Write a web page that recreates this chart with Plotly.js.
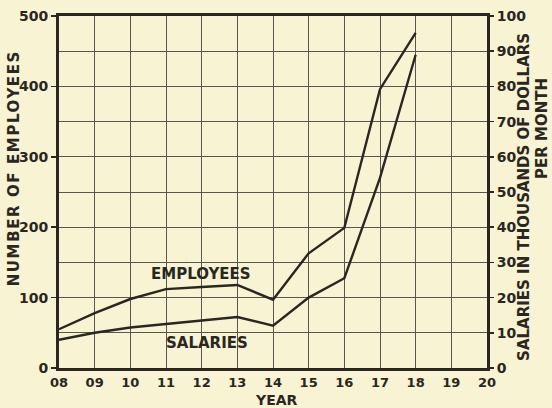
<!DOCTYPE html>
<html><head><meta charset="utf-8">
<script src="https://cdn.plot.ly/plotly-3.0.1.min.js"></script>
<style>body{margin:0;background:#f8f3d2}
.annotation[data-index="2"] text{letter-spacing:1.6px}
</style></head>
<body><div id="c" style="width:552px;height:408px"></div>
<script>
const years = [8, 9, 10, 11, 12, 13, 14, 15, 16, 17, 18];
const employees = [55, 78, 98, 112, 115, 118, 97, 163, 199, 396, 476];
const salaries = [8, 10, 11.5, 12.5, 13.5, 14.5, 12, 20, 25.5, 54, 89];
const xTickVals = [8, 9, 10, 11, 12, 13, 14, 15, 16, 17, 18, 19, 20];
const xTickText = ["08","09","10","11","12","13","14","15","16","17","18","19","20"];
const xTitle = 'YEAR';
const leftTitle = 'NUMBER OF EMPLOYEES';
const rightTitle1 = 'SALARIES IN THOUSANDS OF DOLLARS';
const rightTitle2 = 'PER MONTH';

const ink = '#2a2622';
const grid = '#5a554e';
const tickFont = {family: 'DejaVu Sans', size: 14, color: ink, weight: 'bold'};
const xTickFont = {family: 'DejaVu Sans', size: 13, color: ink, weight: 'bold'};
const titleFont = {family: 'DejaVu Sans', size: 15, color: ink, weight: 'bold'};
const yearFont = {family: 'DejaVu Sans', size: 14, color: ink, weight: 'bold'};
const data = [
  {x: years, y: employees, type: 'scatter', mode: 'lines', line: {color: ink, width: 2.4}, yaxis: 'y', hoverinfo: 'skip'},
  {x: years, y: salaries, type: 'scatter', mode: 'lines', line: {color: ink, width: 2.4}, yaxis: 'y2', hoverinfo: 'skip'}
];
const ann = (x, y, text, angle, f) => ({x, y, xref: 'paper', yref: 'paper', text, textangle: angle,
  xanchor: 'center', yanchor: 'middle', showarrow: false, font: f || titleFont});
const layout = {
  width: 552, height: 408,
  margin: {l: 59, r: 65, t: 16, b: 40},
  paper_bgcolor: '#f8f3d2', plot_bgcolor: '#f8f3d2',
  showlegend: false,
  font: tickFont,
  xaxis: {
    range: [8, 20], tickvals: xTickVals, ticktext: xTickText,
    showgrid: true, gridcolor: grid, gridwidth: 1,
    showline: true, linecolor: ink, linewidth: 3, mirror: true,
    ticks: '', ticklen: 0, zeroline: false, tickfont: xTickFont
  },
  yaxis: {
    range: [0, 500], tickvals: [0, 100, 200, 300, 400, 500],
    showgrid: true, gridcolor: grid, gridwidth: 1,
    minor: {dtick: 50, showgrid: true, gridcolor: grid, gridwidth: 1},
    showline: true, linecolor: ink, linewidth: 3,
    ticks: 'outside', ticklen: 5, tickwidth: 1.5, tickcolor: ink,
    zeroline: false, tickfont: tickFont
  },
  yaxis2: {
    range: [0, 100], tickvals: [0,10,20,30,40,50,60,70,80,90,100],
    overlaying: 'y', side: 'right', showgrid: false,
    showline: true, linecolor: ink, linewidth: 3,
    ticks: 'outside', ticklen: 4, tickwidth: 1.5, tickcolor: ink,
    zeroline: false, tickfont: tickFont
  },
  annotations: [
    {x: 11.97, y: 134, xref: 'x', yref: 'y', text: 'EMPLOYEES', showarrow: false, font: titleFont},
    {x: 12.15, y: 35, xref: 'x', yref: 'y', text: 'SALARIES', showarrow: false, font: titleFont},
    ann(-0.105, 0.568, leftTitle, -90),
    ann(1.0864, 0.486, rightTitle1, -90),
    ann(1.1285, 0.682, rightTitle2, -90),
    ann(0.509, -0.090, xTitle, 0, yearFont)
  ]
};
Plotly.newPlot('c', data, layout, {displayModeBar: false, staticPlot: true});
</script></body></html>
